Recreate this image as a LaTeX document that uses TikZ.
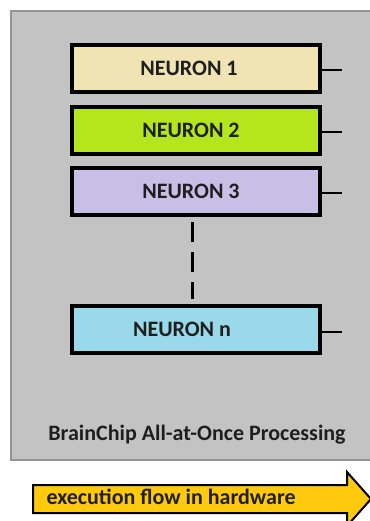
\documentclass[tikz,border=0pt]{standalone}
\usepackage{fontspec}
\setmainfont{Carlito}
\begin{document}
\begin{tikzpicture}[x=1pt,y=-1pt,
  lbl/.style={font=\bfseries\fontsize{22}{26}\selectfont, text=black!88},
  nbox/.style={draw=black, line width=4pt, minimum width=248pt, minimum height=47pt, inner sep=0pt, anchor=north west},
  stub/.style={draw=black, line width=2pt},
  panel/.style={fill=black!23.5, draw=black!42, line width=2pt}
]
\useasboundingbox (0,0) rectangle (369,521);
\fill[white] (0,0) rectangle (369,521);
\draw[panel] (11,11) rectangle (385,460);
\node[nbox, fill={rgb,255:red,240;green,228;blue,180}, label={[lbl,xshift=-7pt]center:NEURON 1}] (n1) at (70,43) {};
\node[nbox, fill={rgb,255:red,181;green,230;blue,29}, label={[lbl,xshift=-5pt]center:NEURON 2}] (n2) at (70,105) {};
\node[nbox, fill={rgb,255:red,200;green,191;blue,231}, label={[lbl,xshift=-5pt]center:NEURON 3}] (n3) at (70,166) {};
\node[nbox, fill={rgb,255:red,153;green,217;blue,234}, label={[lbl,xshift=-14pt]center:NEURON n}] (nn) at (70,304) {};
\coordinate (s1) at ([xshift=20pt,yshift=-2pt]n1.east);
\coordinate (s2) at ([xshift=20pt,yshift=-2pt]n2.east);
\coordinate (s3) at ([xshift=20pt,yshift=-2pt]n3.east);
\coordinate (sn) at ([xshift=20pt,yshift=-2pt]nn.east);
\draw[stub] ([yshift=-2pt]n1.east) -- (s1);
\draw[stub] ([yshift=-2pt]n2.east) -- (s2);
\draw[stub] ([yshift=-2pt]n3.east) -- (s3);
\draw[stub] ([yshift=-2pt]nn.east) -- (sn);
\draw[line width=3pt, dash pattern=on 20pt off 10pt, shorten <=5pt, shorten >=5pt]
  ([xshift=-4pt]n3.south) -- ([xshift=-4pt]nn.north);
\node[lbl] (title) at (197,435) {BrainChip All-at-Once Processing};
\draw[fill={rgb,255:red,255;green,201;blue,14}, draw=black, line width=2pt, line join=miter]
  (33,485) -- (347,485) -- (347,472) -- (371,499) -- (347,526) -- (347,513) -- (33,513) -- cycle;
\node[lbl, anchor=west] (flow) at (43,497) {execution flow in hardware};
\end{tikzpicture}
\end{document}
